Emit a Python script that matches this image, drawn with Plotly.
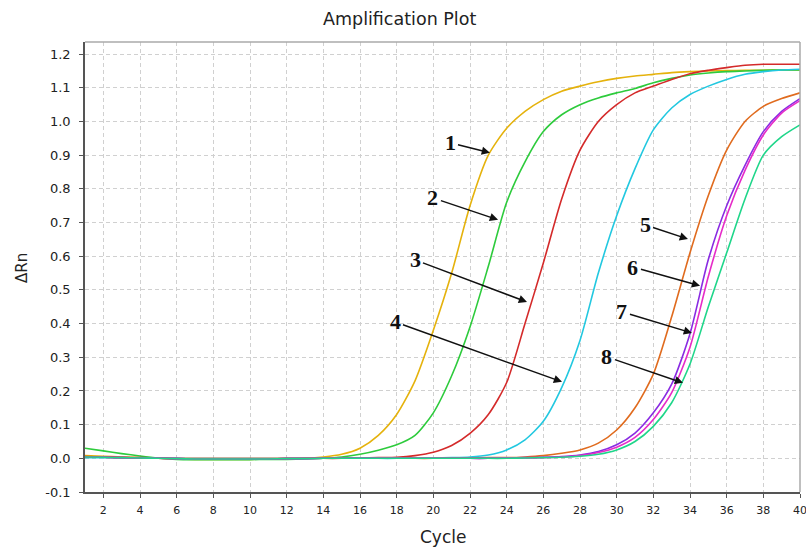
import plotly.graph_objects as go

cycles = list(range(1, 41))

base_a = [0.004, 0.003, 0.002, 0.001, 0.0, -0.001, -0.002, -0.002, -0.002, -0.002,
          -0.002, -0.001, -0.001, 0.0, 0.0, 0.0, 0.0, 0.0, 0.0, 0.0]

curve1 = [0.008, 0.006, 0.004, 0.002, 0.0, -0.002, -0.003, -0.003, -0.003, -0.003,
          -0.002, -0.001, 0.0, 0.004, 0.012, 0.03, 0.068, 0.13, 0.23, 0.38,
          0.55, 0.75, 0.90, 0.98, 1.03, 1.065, 1.09, 1.105, 1.118, 1.128,
          1.135, 1.14, 1.145, 1.148, 1.15, 1.151, 1.152, 1.152, 1.153, 1.153]
curve2 = [0.03, 0.022, 0.014, 0.007, 0.001, -0.003, -0.004, -0.004, -0.004, -0.004,
          -0.003, -0.003, -0.002, 0.0, 0.004, 0.012, 0.024, 0.04, 0.068, 0.135,
          0.245, 0.39, 0.57, 0.76, 0.88, 0.97, 1.02, 1.05, 1.07, 1.085,
          1.098, 1.115, 1.128, 1.138, 1.144, 1.148, 1.15, 1.152, 1.153, 1.153]
curve3 = [0.005, 0.004, 0.003, 0.002, 0.001, 0.0, -0.001, -0.001, -0.001, -0.001,
          -0.001, 0.0, 0.0, 0.0, 0.0, 0.001, 0.002, 0.003, 0.008, 0.018,
          0.038, 0.074, 0.13, 0.225, 0.40, 0.58, 0.77, 0.915, 1.0, 1.05,
          1.085, 1.105, 1.125, 1.142, 1.152, 1.16, 1.167, 1.17, 1.17, 1.17]
curve4 = [0.002, 0.002, 0.001, 0.001, 0.0, 0.0, -0.001, -0.001, -0.001, -0.001,
          -0.001, -0.001, 0.0, 0.0, 0.0, 0.0, 0.0, 0.0, 0.001, 0.001,
          0.002, 0.004, 0.01, 0.025, 0.055, 0.11, 0.21, 0.35, 0.55, 0.72,
          0.86, 0.975, 1.04, 1.08, 1.105, 1.125, 1.14, 1.148, 1.153, 1.155]
curve5 = [0.004, 0.003, 0.002, 0.001, 0.0, -0.001, -0.001, -0.001, -0.001, -0.001,
          -0.001, -0.001, 0.0, 0.0, 0.0, 0.0, 0.0, 0.0, 0.0, 0.0,
          0.001, 0.001, 0.002, 0.002, 0.004, 0.008, 0.015, 0.025, 0.045, 0.084,
          0.15, 0.25, 0.42, 0.61, 0.78, 0.915, 1.0, 1.045, 1.068, 1.085]
curve6 = base_a + [0.0, 0.0, 0.0, 0.001, 0.002, 0.003, 0.005, 0.01, 0.02, 0.04,
                   0.075, 0.135, 0.22, 0.37, 0.59, 0.75, 0.87, 0.97, 1.03, 1.068]
curve7 = base_a + [0.0, 0.0, 0.0, 0.001, 0.001, 0.002, 0.004, 0.008, 0.017, 0.033,
                   0.062, 0.115, 0.195, 0.33, 0.54, 0.72, 0.855, 0.96, 1.025, 1.062]
curve8 = base_a + [0.0, 0.0, 0.0, 0.0, 0.001, 0.002, 0.003, 0.006, 0.012, 0.025,
                   0.05, 0.095, 0.165, 0.28, 0.45, 0.61, 0.77, 0.9, 0.955, 0.99]

series = [curve1, curve2, curve3, curve4, curve5, curve6, curve7, curve8]
colors = ["#E5B20C", "#2DCB3C", "#D42A2A", "#22C8E0", "#E06B1E", "#8A2BE2", "#E62BC8", "#1FD68A"]

labels = ["1", "2", "3", "4", "5", "6", "7", "8"]
label_x = [20.91, 19.98, 19.0, 17.91, 31.55, 30.89, 30.29, 29.47]
label_y = [0.937, 0.773, 0.589, 0.405, 0.693, 0.568, 0.435, 0.301]
tip_x = [23.09, 23.53, 25.11, 27.02, 33.89, 34.55, 34.11, 33.62]
tip_y = [0.907, 0.708, 0.464, 0.227, 0.651, 0.512, 0.372, 0.224]

x_ticks = list(range(2, 41, 2))
y_ticks = [round(-0.1 + 0.1 * i, 1) for i in range(14)]
y_ticktext = ["-0.1"] + ["%.1f" % v for v in y_ticks[1:]]

fig = go.Figure()
for vals, col in zip(series, colors):
    fig.add_trace(go.Scatter(x=cycles, y=vals, mode="lines",
                             line=dict(color=col, width=1.6, shape="spline", smoothing=0.7),
                             showlegend=False, hoverinfo="skip"))

for t, lx, ly, tx, ty in zip(labels, label_x, label_y, tip_x, tip_y):
    fig.add_annotation(x=tx, y=ty, ax=lx, ay=ly, xref="x", yref="y", axref="x", ayref="y",
                       text="<b>" + t + "</b>", showarrow=True, arrowhead=2, arrowsize=1.1,
                       arrowwidth=1.5, arrowcolor="#111", standoff=0, startstandoff=1,
                       font=dict(family="Liberation Serif", size=22, color="#111"))

fig.add_annotation(xref="paper", yref="paper", x=-0.088, y=0.498, text="ΔRn",
                   textangle=-90, showarrow=False, xanchor="center", yanchor="middle",
                   font=dict(family="DejaVu Sans", size=15, color="#222"))
fig.add_annotation(xref="paper", yref="paper", x=0.5, y=-0.1, text="Cycle",
                   showarrow=False, xanchor="center", yanchor="middle",
                   font=dict(family="DejaVu Sans", size=17, color="#222"))
fig.add_annotation(xref="paper", yref="paper", x=0.44, y=1.051, text="Amplification Plot",
                   showarrow=False, xanchor="center", yanchor="middle",
                   font=dict(family="DejaVu Sans", size=17.5, color="#222"))

# lighter top/right frame
fig.add_shape(type="line", xref="paper", yref="paper", x0=0, x1=1, y0=1, y1=1,
              line=dict(color="#aaaaaa", width=1.5))
fig.add_shape(type="line", xref="paper", yref="paper", x0=1, x1=1, y0=0, y1=1,
              line=dict(color="#aaaaaa", width=1.5))

fig.update_layout(
    width=806, height=548,
    margin=dict(l=85, r=6, t=42, b=56, autoexpand=False),
    paper_bgcolor="white", plot_bgcolor="white",
    xaxis=dict(range=[1, 40], tickvals=x_ticks, ticks="outside", ticklen=4, tickcolor="#555",
               showline=True, linecolor="#555", linewidth=1.5, automargin=False,
               showgrid=True, gridcolor="#d0d0d0", griddash="4px,3px", gridwidth=1,
               zeroline=False, tickfont=dict(family="DejaVu Sans", size=11, color="#222"),
               ticklabelstandoff=3, ticklabeloverflow="allow"),
    yaxis=dict(range=[-0.1, 1.236], tickvals=y_ticks, ticktext=y_ticktext, ticks="outside",
               ticklen=4, tickcolor="#555", showline=True, linecolor="#555", linewidth=1.5,
               automargin=False,
               showgrid=True, gridcolor="#d0d0d0", griddash="4px,3px", gridwidth=1,
               zeroline=False, tickfont=dict(family="DejaVu Sans", size=13, color="#222"),
               ticklabelstandoff=6, ticklabeloverflow="allow"),
)

fig.write_html("out.html", config={"displayModeBar": False},
               post_script="document.body.style.margin='0';document.body.style.overflow='hidden';")
